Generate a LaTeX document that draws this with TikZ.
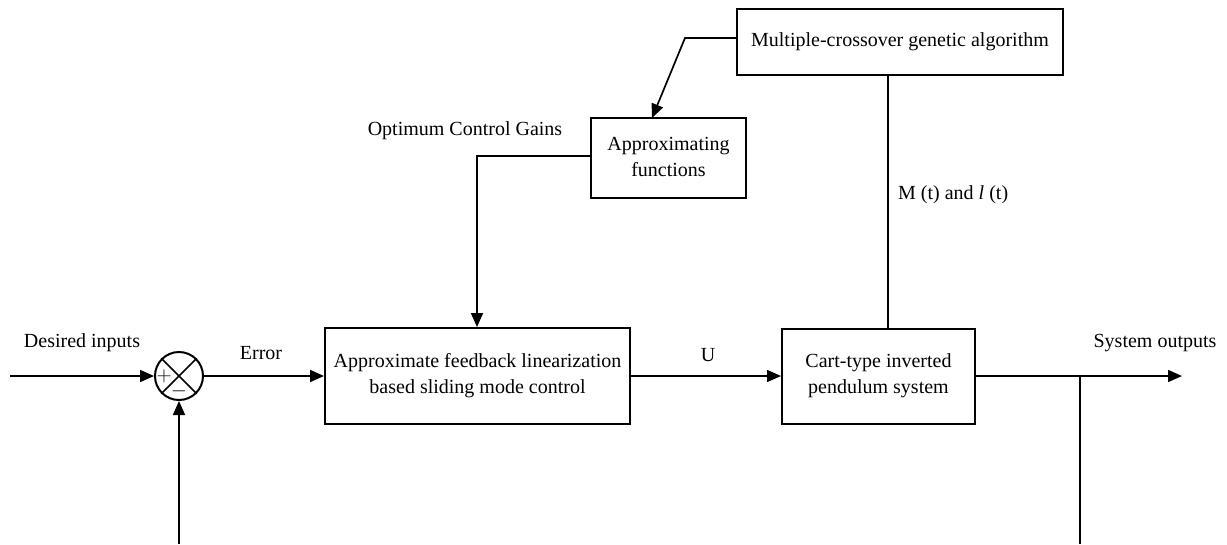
\documentclass[tikz,border=0pt]{standalone}
\usepackage{fontspec}
\setmainfont{Liberation Serif}
\usetikzlibrary{arrows.meta,calc}
\begin{document}
\begin{tikzpicture}[x=1pt,y=-1pt,
  every node/.style={font=\fontsize{20}{26}\selectfont},
  blk/.style={draw,line width=2pt,align=center,inner sep=0pt},
  ln/.style={line width=1.7pt},
  arr/.style={ln,-{Triangle[length=14pt,width=12pt]}},
  lbl/.style={inner sep=0pt}]
\useasboundingbox (0,0) rectangle (1227,544);
% blocks
\node[blk,minimum width=305,minimum height=96] (ctrl) at (477.5,376) {Approximate feedback linearization\\based sliding mode control};
\node[blk,minimum width=193,minimum height=95] (plant) at (878.5,376) {Cart-type inverted\\pendulum system};
\node[blk,minimum width=326,minimum height=66] (ga) at (900,42) {\raisebox{4pt}{Multiple-crossover genetic algorithm}};
\node[blk,minimum width=155,minimum height=80] (apf) at (668.5,158) {\raisebox{3pt}{\begin{tabular}{@{}c@{}}Approximating\\functions\end{tabular}}};
% summing junction
\node[draw,circle,line width=2pt,minimum size=48,inner sep=0pt] (sum) at (179,376) {};
\draw[ln] (sum.north west) -- (sum.south east) (sum.north east) -- (sum.south west);
\node[lbl] (plus) at (164,376) {$+$};
\node[lbl] (minus) at (179,391) {$-$};
% coordinates
\coordinate (inL) at (10,376);
\coordinate (fbB) at (179,544);
\coordinate (br) at (1080,376);
\coordinate (brB) at (1080,544);
\coordinate (outE) at (1182,376);
\coordinate (gaL) at (ga.west |- 0,38);
\coordinate (bend1) at (685,38);
\coordinate (apfT) at (652,118);
\coordinate (apfL) at (apf.west |- 0,156);
\coordinate (bend2) at (477,156);
\coordinate (gaB) at (888,75);
\coordinate (plT) at (888,328);
% connectors
\draw[arr] (inL) -- (sum.west);
\draw[arr] (fbB) -- (sum.south);
\draw[arr] (sum.east) -- (ctrl.west);
\draw[arr] (ctrl.east) -- (plant.west);
\draw[arr] (plant.east) -- (outE);
\draw[ln] (br) -- (brB);
\draw[arr] (gaL) -- (bend1) -- (apfT);
\draw[arr] (apfL) -- (bend2) -- (ctrl.north -| bend2);
\draw[ln] (gaB) -- (plT);
% labels
\node[lbl] (l1) at (82,343) {Desired inputs};
\node[lbl] (l2) at (261,353) {Error};
\node[lbl] (l3) at (708,355) {U};
\node[lbl] (l4) at (1155,343) {System outputs};
\node[lbl] (l5) at (465,131) {Optimum Control Gains};
\node[lbl,anchor=west] (l6) at (898,195) {M (t) and \textit{l} (t)};
\end{tikzpicture}
\end{document}
